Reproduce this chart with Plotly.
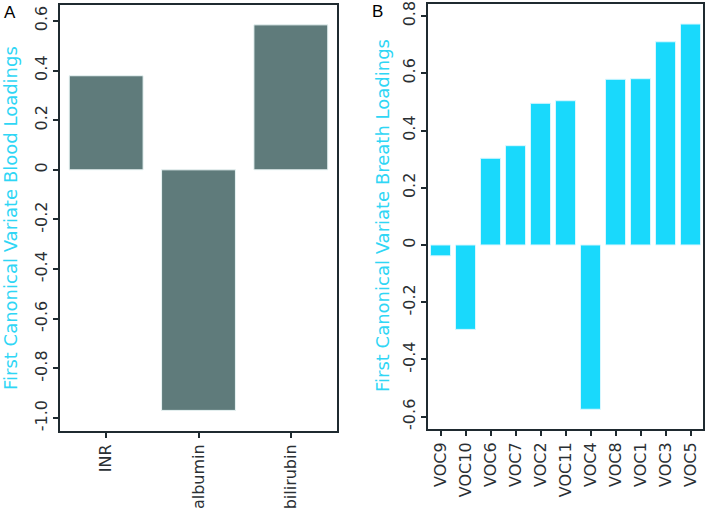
import plotly.graph_objects as go

# ---- data ----
blood_vars = ["INR", "albumin", "bilirubin"]
blood_loadings = [0.379, -0.969, 0.584]

breath_vars = ["VOC9", "VOC10", "VOC6", "VOC7", "VOC2", "VOC11", "VOC4",
               "VOC8", "VOC1", "VOC3", "VOC5"]
breath_loadings = [-0.038, -0.295, 0.303, 0.347, 0.495, 0.504, -0.574,
                   0.579, 0.581, 0.710, 0.772]

blood_ticks = [-1.0, -0.8, -0.6, -0.4, -0.2, 0, 0.2, 0.4, 0.6]
blood_ticktext = ["-1.0", "-0.8", "-0.6", "-0.4", "-0.2", "0", "0.2", "0.4", "0.6"]
breath_ticks = [-0.6, -0.4, -0.2, 0, 0.2, 0.4, 0.6, 0.8]
breath_ticktext = ["-0.6", "-0.4", "-0.2", "0", "0.2", "0.4", "0.6", "0.8"]

# ---- styles ----
W, H = 708, 516
ML, MR, MT, MB = 60, 5, 4, 85
PW = W - ML - MR
PH = H - MT - MB
def px_x(p):
    return (p - ML) / PW
def px_y(p):
    return 1 - (p - MT) / PH

FRAME = "#1f2a30"
GREY = "#5f7b7b"
CYAN = "#19d9fc"
TITLE_CYAN = "#2fd6f5"
TICKFONT = dict(family="DejaVu Sans", size=16, color="#2a2f33")

fig = go.Figure()
fig.add_trace(go.Bar(x=blood_vars, y=blood_loadings, width=0.8,
                     marker=dict(color=GREY, line=dict(color="#e8f4f4", width=1)),
                     xaxis="x", yaxis="y", showlegend=False))
fig.add_trace(go.Bar(x=breath_vars, y=breath_loadings, width=0.8,
                     marker=dict(color=CYAN, line=dict(color="#d8f7ff", width=1)),
                     xaxis="x2", yaxis="y2", showlegend=False))

axis_common = dict(showline=True, mirror=True, linecolor=FRAME, linewidth=2,
                   ticks="outside", ticklen=5, tickwidth=2, tickcolor=FRAME,
                   showgrid=False, zeroline=False, tickfont=TICKFONT,
                   automargin=False, ticklabeloverflow="allow")

fig.update_layout(
    width=W, height=H,
    margin=dict(l=ML, r=MR, t=MT, b=MB, autoexpand=False),
    paper_bgcolor="white", plot_bgcolor="white",
    bargap=0.2,
    xaxis=dict(domain=[0, px_x(337)], range=[-0.5, 2.5], tickangle=-90,
               anchor="y", **axis_common),
    yaxis=dict(domain=[px_y(431), px_y(5)], range=[-1.052, 0.664],
               tickvals=blood_ticks, ticktext=blood_ticktext, tickangle=-90,
               anchor="x", **axis_common),
    xaxis2=dict(domain=[px_x(428), 1], range=[-0.5, 10.5], tickangle=-90,
                anchor="y2", **axis_common),
    yaxis2=dict(domain=[px_y(429), px_y(4)], range=[-0.643, 0.842],
                tickvals=breath_ticks, ticktext=breath_ticktext, tickangle=-90,
                anchor="x2", **axis_common),
    annotations=[
        dict(text="First Canonical Variate Blood Loadings", textangle=-90,
             x=px_x(10), y=px_y(218), xref="paper", yref="paper",
             xanchor="center", yanchor="middle", showarrow=False,
             font=dict(family="DejaVu Sans", size=18, color=TITLE_CYAN)),
        dict(text="First Canonical Variate Breath Loadings", textangle=-90,
             x=px_x(382), y=px_y(216), xref="paper", yref="paper",
             xanchor="center", yanchor="middle", showarrow=False,
             font=dict(family="DejaVu Sans", size=18, color=TITLE_CYAN)),
        dict(text="A", x=px_x(10), y=px_y(12), xref="paper", yref="paper",
             xanchor="center", yanchor="middle", showarrow=False,
             font=dict(family="Liberation Sans", size=17, color="black")),
        dict(text="B", x=px_x(377), y=px_y(11), xref="paper", yref="paper",
             xanchor="center", yanchor="middle", showarrow=False,
             font=dict(family="Liberation Sans", size=17, color="black")),
    ],
)

fig.write_html("out.html", config={"displayModeBar": False},
               post_script="document.body.style.margin='0';document.body.style.overflow='hidden';")
